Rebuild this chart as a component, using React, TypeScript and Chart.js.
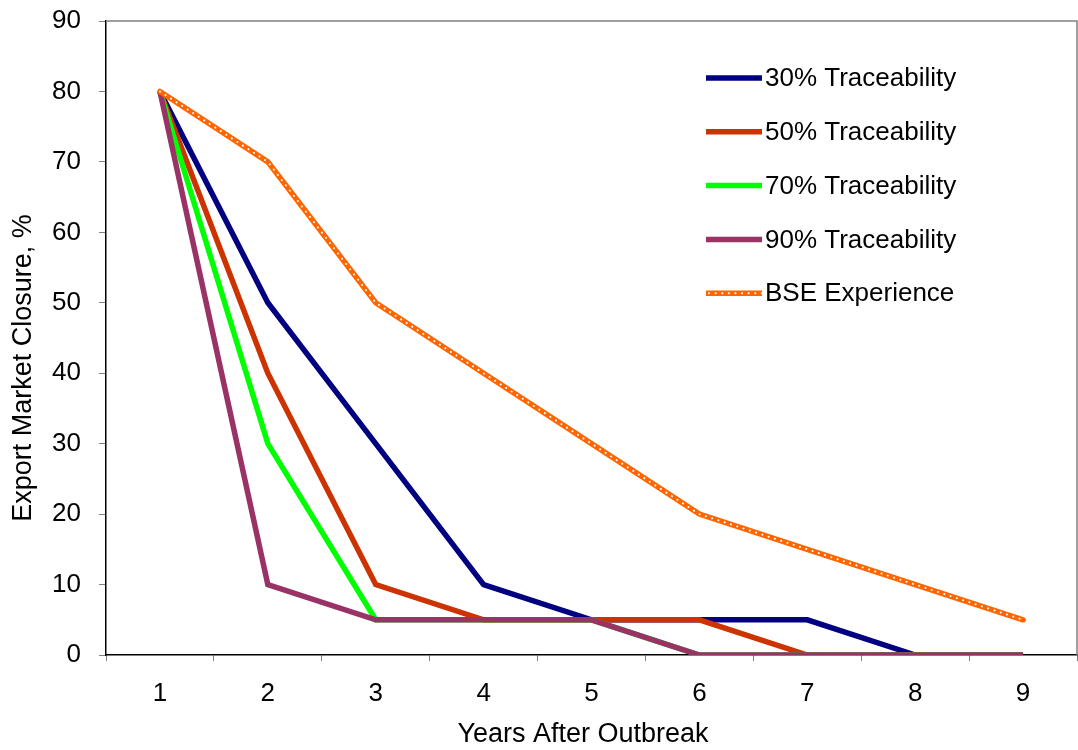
import React, { useEffect, useRef } from "react";
import { Chart, registerables } from "chart.js";

Chart.register(...registerables);

const years = ["1", "2", "3", "4", "5", "6", "7", "8", "9"];
const trace30 = [80, 50, 30, 10, 5, 5, 5, 0, 0];
const trace50 = [80, 40, 10, 5, 5, 5, 0, 0, 0];
const trace70 = [80, 30, 5, 5, 5, 0, 0, 0, 0];
const trace90 = [80, 10, 5, 5, 5, 0, 0, 0, 0];
const bseExperience = [80, 70, 50, 40, 30, 20, 15, 10, 5];
const yTicks = [0, 10, 20, 30, 40, 50, 60, 70, 80, 90];
const xTitle = "Years After Outbreak";
const yTitle = "Export Market Closure, %";

const FONT = "'Liberation Sans', Arial, sans-serif";
const FS = 26;
const TFS = 27;
const LW = 5.5;

const legendItems = [
  { label: "30% Traceability", color: "#000080", dotted: false },
  { label: "50% Traceability", color: "#CC3300", dotted: false },
  { label: "70% Traceability", color: "#00FF00", dotted: false },
  { label: "90% Traceability", color: "#993366", dotted: false },
  { label: "BSE Experience", color: "#FF6600", dotted: true },
];

const framePlugin = {
  id: "frame",
  beforeDatasetsDraw(chart: any) {
    const { ctx, chartArea } = chart;
    ctx.save();
    ctx.strokeStyle = "#808080";
    ctx.lineWidth = 1.5;
    ctx.beginPath();
    ctx.moveTo(chartArea.left, chartArea.top);
    ctx.lineTo(chartArea.right, chartArea.top);
    ctx.lineTo(chartArea.right, chartArea.bottom);
    ctx.stroke();
    ctx.restore();
  },
  afterDraw(chart: any) {
    const { ctx, chartArea } = chart;
    ctx.save();
    // axis titles
    ctx.fillStyle = "#000";
    ctx.font = `${TFS}px ${FONT}`;
    ctx.textAlign = "center";
    ctx.textBaseline = "middle";
    ctx.fillText(xTitle, chartArea.left + 477, chartArea.bottom + 80);
    ctx.save();
    ctx.translate(24, chartArea.top + 347);
    ctx.rotate(-Math.PI / 2);
    ctx.fillText(yTitle, 0, 0);
    ctx.restore();
    // legend
    const x0 = chartArea.left + 600;
    const y0 = chartArea.top + 57;
    const step = 53.8;
    legendItems.forEach((it, i) => {
      const y = y0 + i * step;
      ctx.lineCap = "butt";
      ctx.strokeStyle = it.color;
      ctx.lineWidth = LW;
      ctx.setLineDash([]);
      ctx.beginPath();
      ctx.moveTo(x0, y);
      ctx.lineTo(x0 + 56, y);
      ctx.stroke();
      if (it.dotted) {
        ctx.strokeStyle = "#FFFFFF";
        ctx.lineWidth = 2;
        ctx.lineCap = "round";
        ctx.setLineDash([0.1, 6.5]);
        ctx.beginPath();
        ctx.moveTo(x0 + 3, y);
        ctx.lineTo(x0 + 56, y);
        ctx.stroke();
        ctx.setLineDash([]);
      }
      ctx.fillStyle = "#000";
      ctx.font = `${FS}px ${FONT}`;
      ctx.textBaseline = "middle";
      ctx.textAlign = "left";
      ctx.fillText(it.label, x0 + 59, y + 1);
    });
    ctx.restore();
  },
};

export default function App() {
  const ref = useRef<HTMLCanvasElement | null>(null);
  useEffect(() => {
    if (!ref.current) return;
    const mk = (label: string, data: number[], color: string, order: number) => ({
      label,
      data,
      borderColor: color,
      backgroundColor: color,
      borderWidth: LW,
      pointRadius: 0,
      tension: 0,
      order,
    });
    const chart = new Chart(ref.current, {
      type: "line",
      data: {
        labels: years,
        datasets: [
          mk("30% Traceability", trace30, "#000080", 6),
          mk("50% Traceability", trace50, "#CC3300", 5),
          mk("70% Traceability", trace70, "#00FF00", 4),
          mk("90% Traceability", trace90, "#993366", 3),
          { ...mk("BSE Experience", bseExperience, "#FF6600", 2), borderCapStyle: "round" },
          {
            label: "BSE dots",
            data: bseExperience,
            borderColor: "#FFFFFF",
            borderWidth: 2,
            borderDash: [0.1, 6.5],
            borderCapStyle: "round",
            pointRadius: 0,
            tension: 0,
            order: 1,
          },
        ] as any,
      },
      options: {
        animation: false,
        responsive: false,
        maintainAspectRatio: false,
        layout: { padding: { top: 21, right: 1, left: 0, bottom: 0 } },
        plugins: { legend: { display: false }, tooltip: { enabled: false } },
        scales: {
          x: {
            offset: true,
            grid: {
              offset: true,
              drawOnChartArea: false,
              drawTicks: true,
              tickLength: 6,
              color: "#808080",
            },
            border: { color: "#000", width: 1.5 },
            ticks: { color: "#000", font: { size: FS, family: FONT }, padding: 17 },
            afterFit: (s: any) => {
              s.height = 95;
              s.paddingLeft = 0;
              s.paddingRight = 0;
            },
          },
          y: {
            min: 0,
            max: 90,
            afterBuildTicks: (s: any) => {
              s.ticks = yTicks.map((v) => ({ value: v }));
            },
            grid: {
              drawOnChartArea: false,
              drawTicks: true,
              tickLength: 7,
              color: "#808080",
            },
            border: { color: "#000", width: 1.5 },
            ticks: { color: "#000", font: { size: FS, family: FONT }, padding: 18 },
            afterFit: (s: any) => {
              s.width = 106;
              s.paddingTop = 0;
              s.paddingBottom = 0;
            },
          },
        },
      },
      plugins: [framePlugin],
    });
    return () => chart.destroy();
  }, []);
  return (
    <div style={{ position: "fixed", left: 0, top: 0, width: 1078, height: 750, background: "#fff" }}>
      <canvas ref={ref} width={1078} height={750} style={{ width: 1078, height: 750, display: "block" }} />
    </div>
  );
}
